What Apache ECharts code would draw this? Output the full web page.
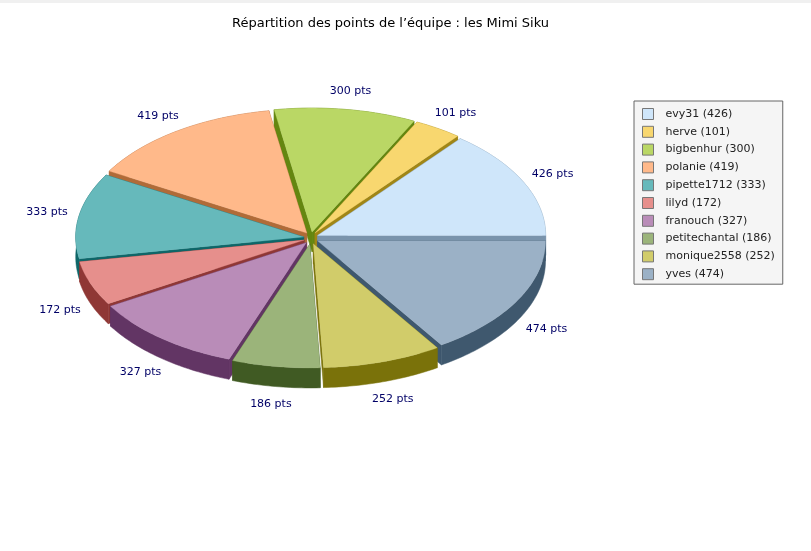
<!DOCTYPE html>
<html><head><meta charset="utf-8">
<style>html,body{margin:0;padding:0;background:#fff}#c{width:811px;height:551px}</style>
<script src="https://cdn.jsdelivr.net/npm/echarts@6/dist/echarts.min.js"></script>
</head><body><div id="c"></div>
<script>
var names = ['evy31','herve','bigbenhur','polanie','pipette1712','lilyd','franouch','petitechantal','monique2558','yves'];
var values = [426,101,300,419,333,172,327,186,252,474];
var topColors = ['#cfe6fa','#f8d76f','#bad765','#ffb98a','#66b9bb','#e68f8c','#b98cb8','#9bb47a','#d1cc6a','#9bb1c6'];
var wallColors = ['#7a94ac','#a08616','#648610','#b06b38','#0e6668','#8f3735','#623564','#405a23','#7a720a','#3f586e'];
var titleText = 'Répartition des points de l’équipe : les Mimi Siku';
var unit = ' pts';

var CX = 311, CY = 238, RX = 228, RY = 124, H = 20, EXPLODE_X = 7.4, EXPLODE_Y = 6, LABEL_RX = 268, LABEL_RY = 148;
var total = values.reduce(function(a,b){return a+b;},0);
var starts = [], acc = 0;
values.forEach(function(v){ starts.push(acc); acc += v; });

function quad(a,b,color){
  return {type:'polygon', shape:{points:[a,b,[b[0],b[1]+H],[a[0],a[1]+H]]},
    style:{fill:color,stroke:color,lineWidth:0.5}};
}
function renderSlice(i){
  return function(params, api){
    var v = api.value(0);
    var a0 = starts[i]/total*2*Math.PI, a1 = a0 + v/total*2*Math.PI, m = (a0+a1)/2;
    var ox = CX + EXPLODE_X*Math.cos(m), oy = CY - EXPLODE_Y*Math.sin(m);
    var arc = [], n = Math.max(8, Math.ceil((a1-a0)*60));
    for (var k=0;k<=n;k++){
      var a = a0+(a1-a0)*k/n;
      arc.push([ox+RX*Math.cos(a), oy-RY*Math.sin(a)]);
    }
    var apex = [ox,oy], children = [];
    var rim = arc.concat(arc.slice().reverse().map(function(p){return [p[0],p[1]+H];}));
    children.push(quad(apex,arc[0],wallColors[i]));
    children.push(quad(apex,arc[n],wallColors[i]));
    children.push({type:'polygon',shape:{points:rim},style:{fill:wallColors[i],stroke:wallColors[i],lineWidth:0.5}});
    children.push({type:'polygon',shape:{points:[apex].concat(arc)},style:{fill:topColors[i],stroke:topColors[i],lineWidth:0.3}});
    var lx = CX+LABEL_RX*Math.cos(m), ly = CY-LABEL_RY*Math.sin(m);
    if (Math.sin(m)<0) ly+=H;
    children.push({type:'text',style:{x:lx,y:ly,text:v+unit,fill:'#000066',
      font:'11px "DejaVu Sans"',textAlign:'center',textVerticalAlign:'middle'}});
    return {type:'group',children:children};
  };
}
var depth = values.map(function(v,i){
  return Math.sin((starts[i]+v/2)/total*2*Math.PI);
});
var order = depth.map(function(d,i){return i;}).sort(function(a,b){return depth[b]-depth[a];});
var series = order.map(function(i,rank){
  return {type:'custom',name:names[i]+' ('+values[i]+')',coordinateSystem:'none',
    renderItem:renderSlice(i),data:[[values[i]]],itemStyle:{color:topColors[i]},
    z:2+rank*0.01,zlevel:0,silent:true,animation:false,clip:false};
});
var chart = echarts.init(document.getElementById('c'),null,{renderer:'canvas'});
chart.setOption({
  animation:false,
  backgroundColor:'#ffffff',
  title:{text:titleText,left:385.5,top:12,textAlign:'center',
    textStyle:{fontFamily:'DejaVu Sans',fontWeight:'normal',fontSize:13,color:'#000'}},
  legend:{orient:'vertical',left:634,top:101,padding:[7,8,4,8],
    backgroundColor:'#f5f5f5',borderColor:'#666666',borderWidth:1,
    icon:'rect',itemWidth:11,itemHeight:11,itemGap:5.8,selectedMode:false,
    itemStyle:{borderColor:'#777777',borderWidth:1},
    textStyle:{fontFamily:'DejaVu Sans',fontSize:11,color:'#222222',padding:[0,0,0,7]},
    data:names.map(function(n,i){return n+' ('+values[i]+')';})},
  graphic:[{type:'rect',left:0,top:0,shape:{width:811,height:3},style:{fill:'#f0f0f0'},silent:true}],
  series:series
});
</script></body></html>
